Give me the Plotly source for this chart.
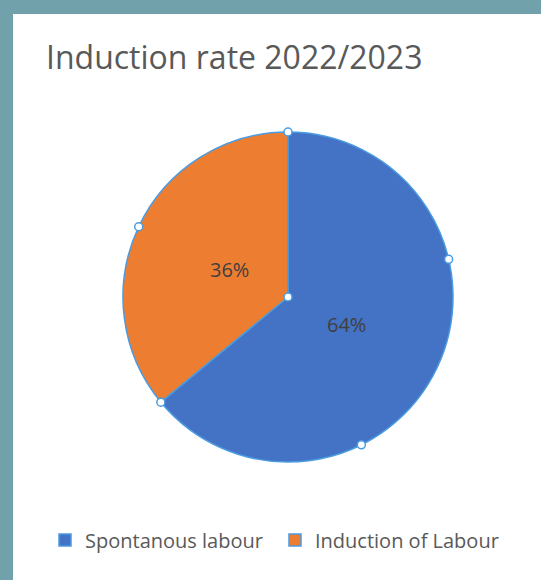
import math
import plotly.graph_objects as go

# --- data -------------------------------------------------------------
labels = ["Spontanous labour", "Induction of Labour"]
values = [64, 36]
colors = ["#4472C4", "#ED7D31"]
title_text = "Induction rate 2022/2023"

# --- geometry (pixels) ------------------------------------------------
W, H = 541, 580
CX, CY, R = 288, 297, 165          # pie centre and radius
PANEL_LEFT, PANEL_TOP = 13, 14     # white chart area inside the teal frame
LABEL_RADIUS = 0.39                # data labels sit at this fraction of R
FONT = "Open Sans"
TEXT_GREY = "#595959"
HANDLE_BLUE = "#4A9BE0"

fig = go.Figure()

fig.add_trace(go.Pie(
    labels=labels,
    values=values,
    sort=False,
    direction="clockwise",
    rotation=0,
    marker=dict(colors=colors, line=dict(color=HANDLE_BLUE, width=1.5)),
    textinfo="none",
    domain=dict(x=[(CX - R) / W, (CX + R) / W],
                y=[(H - CY - R) / H, (H - CY + R) / H]),
    hoverinfo="label+percent",
    showlegend=True,
))

# white chart panel on the teal frame
shapes = [dict(type="rect", xref="paper", yref="paper", layer="below",
               x0=PANEL_LEFT / W, x1=1, y0=0, y1=1 - PANEL_TOP / H,
               fillcolor="white", line=dict(width=0))]
annotations = []

total = sum(values)


def to_px(angle_deg, radius):
    """Clockwise angle from 12 o'clock -> pixel position."""
    a = math.radians(angle_deg)
    return CX + radius * math.sin(a), CY - radius * math.cos(a)


# percentage labels at each slice's mid angle
start = 0.0
for v in values:
    span = 360.0 * v / total
    px, py = to_px(start + span / 2, LABEL_RADIUS * R)
    annotations.append(dict(xref="paper", yref="paper", x=px / W, y=1 - py / H,
                            xanchor="center", yanchor="middle", showarrow=False,
                            text=f"{round(100 * v / total)}%",
                            font=dict(family=FONT, size=20, color="#404040")))
    start += span

# selection handles: centre, slice boundaries and points along each slice arc
handle_angles = []
start = 0.0
for v in values:
    span = 360.0 * v / total
    handle_angles.append(start)
    n = math.ceil(span / 90.0)
    for k in range(1, n):
        handle_angles.append(start + span * k / n)
    start += span

handle_pts = [(CX, CY)] + [to_px(a, R) for a in handle_angles]
hr = 4
for px, py in handle_pts:
    shapes.append(dict(type="circle", xref="paper", yref="paper", layer="above",
                       x0=(px - hr) / W, x1=(px + hr) / W,
                       y0=1 - (py + hr) / H, y1=1 - (py - hr) / H,
                       fillcolor="white", line=dict(color=HANDLE_BLUE, width=1.5)))

fig.update_layout(
    width=W, height=H,
    margin=dict(l=0, r=0, t=0, b=0),
    paper_bgcolor="#71A2AB",
    plot_bgcolor="white",
    shapes=shapes,
    annotations=annotations,
    title=dict(text=title_text, x=46 / W, xanchor="left",
               y=1 - 58 / H, yanchor="middle",
               font=dict(family=FONT, size=32, color=TEXT_GREY)),
    legend=dict(orientation="h", x=45 / W, xanchor="left",
                y=1 - 540 / H, yanchor="middle",
                font=dict(family=FONT, size=20, color=TEXT_GREY),
                bgcolor="rgba(0,0,0,0)", itemwidth=30,
                entrywidth=185, entrywidthmode="pixels"),
)

fig.write_html("out.html")
